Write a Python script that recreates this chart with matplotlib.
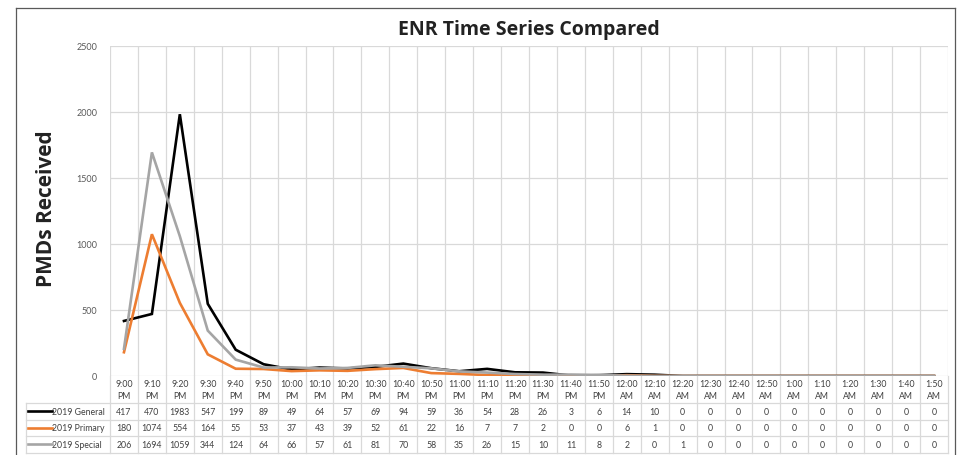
import matplotlib.pyplot as plt
from matplotlib.lines import Line2D
import numpy as np

# categories (10-minute buckets)
times = ["9:00", "9:10", "9:20", "9:30", "9:40", "9:50", "10:00", "10:10", "10:20", "10:30",
         "10:40", "10:50", "11:00", "11:10", "11:20", "11:30", "11:40", "11:50",
         "12:00", "12:10", "12:20", "12:30", "12:40", "12:50", "1:00", "1:10", "1:20",
         "1:30", "1:40", "1:50"]
ampm = ["PM"] * 18 + ["AM"] * 12

general = [417, 470, 1983, 547, 199, 89, 49, 64, 57, 69, 94, 59, 36, 54, 28, 26, 3, 6, 14, 10,
           0, 0, 0, 0, 0, 0, 0, 0, 0, 0]
primary = [180, 1074, 554, 164, 55, 53, 37, 43, 39, 52, 61, 22, 16, 7, 7, 2, 0, 0, 6, 1,
           0, 0, 0, 0, 0, 0, 0, 0, 0, 0]
special = [206, 1694, 1059, 344, 124, 64, 66, 57, 61, 81, 70, 58, 35, 26, 15, 10, 11, 8, 2, 0,
           1, 0, 0, 0, 0, 0, 0, 0, 0, 0]

series = [("2019 General", general, "#000000"),
          ("2019 Primary", primary, "#ED7D31"),
          ("2019 Special", special, "#A5A5A5")]

W, H = 961, 456
fig = plt.figure(figsize=(W / 100, H / 100), dpi=100)

# plot area in pixels
left, right, top, bottom = 110, 948, 47, 377
ax = fig.add_axes([left / W, 1 - bottom / H, (right - left) / W, (bottom - top) / H])

n = len(times)
x = np.arange(n) + 0.5
for name, vals, col in series:
    ax.plot(x, vals, color=col, lw=1.9, solid_joinstyle="miter", zorder=3)

ax.set_xlim(0, n)
ax.set_ylim(0, 2500)
ax.set_yticks(range(0, 2501, 500))
ax.set_xticks([])
for s in ax.spines.values():
    s.set_visible(False)
ax.tick_params(axis="y", length=0, labelsize=6.5, labelcolor="#595959", pad=9)
for lab in ax.get_yticklabels():
    lab.set_family("Lato")
ax.yaxis.grid(True, color="#d9d9d9", lw=0.9)
grid = "#d9d9d9"
for i in range(n + 1):
    ax.axvline(i, color=grid, lw=0.9, zorder=0)


def fy(py):
    return 1 - py / H


def fx(px):
    return px / W


fig.text(fx(529), fy(30), "ENR Time Series Compared", ha="center", va="center",
         fontsize=14, fontweight="bold", family="Open Sans", color="#222222")
fig.text(fx(47), fy(209), "PMDs Received", rotation=90, ha="center", va="center",
         fontsize=15, fontweight="bold", family="Open Sans", color="#222222")

# data table below the axis
colw = (right - left) / n
rows = [404, 420.5, 437, 453.5]
small = dict(fontsize=6.3, family="Lato", color="#404040")

for i in range(n):
    cx = fx(left + (i + 0.5) * colw)
    fig.text(cx, fy(384.5), times[i], ha="center", va="center", **small)
    fig.text(cx, fy(397), ampm[i], ha="center", va="center", **small)

# vertical lines through label row and table
for i in range(n + 1):
    px = left + i * colw
    fig.add_artist(Line2D([fx(px), fx(px)], [fy(bottom), fy(rows[-1])], color=grid, lw=0.9))
fig.add_artist(Line2D([fx(26), fx(26)], [fy(rows[0]), fy(rows[-1])], color=grid, lw=0.9))
for r in rows:
    fig.add_artist(Line2D([fx(26), fx(right)], [fy(r), fy(r)], color=grid, lw=0.9))

for k, (name, vals, col) in enumerate(series):
    cy = (rows[k] + rows[k + 1]) / 2
    fig.add_artist(Line2D([fx(28), fx(52)], [fy(cy), fy(cy)], color=col, lw=1.9))
    fig.text(fx(52), fy(cy), name, ha="left", va="center", **small)
    for i, v in enumerate(vals):
        fig.text(fx(left + (i + 0.5) * colw), fy(cy), str(v), ha="center", va="center", **small)

# chart border
bc = "#595959"
fig.add_artist(Line2D([fx(16), fx(16)], [fy(9), 0], color=bc, lw=0.9))
fig.add_artist(Line2D([fx(16), fx(955)], [fy(9), fy(9)], color=bc, lw=0.9))
fig.add_artist(Line2D([fx(955), fx(955)], [fy(9), 0], color=bc, lw=0.9))

fig.savefig("out.png", dpi=100)
